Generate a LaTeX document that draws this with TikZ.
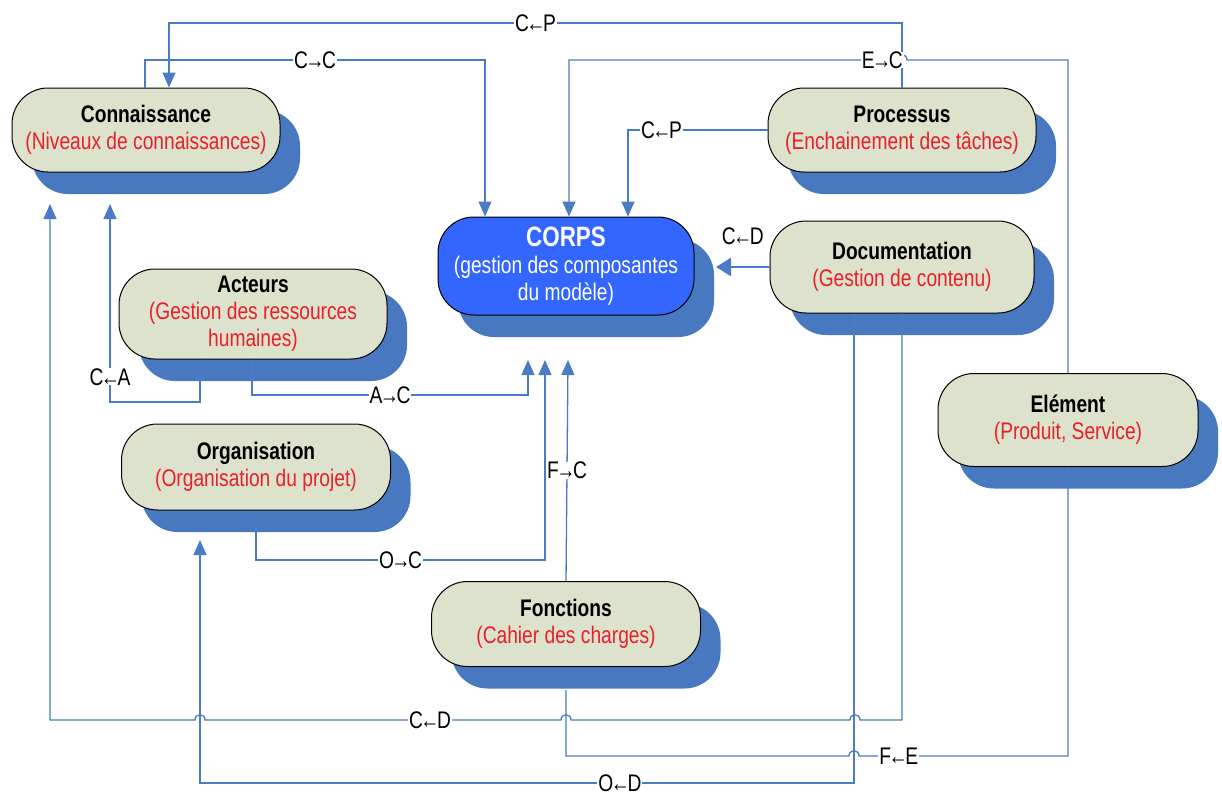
\documentclass[tikz,border=0pt]{standalone}
\usepackage{fontspec}
\setmainfont{Liberation Sans}[FakeStretch=0.8]
\usetikzlibrary{arrows.meta,shadows}
\definecolor{lineblue}{RGB}{74,123,196}
\definecolor{shadowblue}{RGB}{72,120,192}
\definecolor{boxfill}{RGB}{221,226,204}
\definecolor{corpsblue}{RGB}{51,102,255}
\definecolor{redtxt}{RGB}{232,32,42}
\newcommand{\subtxt}[1]{\textcolor{redtxt}{#1}}
\newcommand{\la}{\kern-2.5pt←\kern-2.5pt}
\newcommand{\ra}{\kern-2.5pt→\kern-2.5pt}
\tikzset{
 box/.style={draw=black, line width=1pt, fill=boxfill, rounded corners=36pt, align=center, inner sep=0pt,
   font=\fontsize{24}{27}\selectfont,
   general shadow={fill=shadowblue, shadow xshift=20pt, shadow yshift=-22pt}},
 cl/.style={draw=lineblue, line width=1.3pt},
 arr/.style={cl, -{Triangle[length=15pt,width=13pt]}},
 lbl/.style={fill=white, inner xsep=1pt, inner ysep=0pt, font=\fontsize{24}{27}\selectfont, text=black},
}
\begin{document}
\begin{tikzpicture}[x=1pt,y=-1pt]
\useasboundingbox (0,0) rectangle (1222,795);
% nodes
\node[box, minimum width=268pt, minimum height=84pt] (conn) at (146,130)
  {\textbf{Connaissance}\\\subtxt{(Niveaux de connaissances)}};
\node[box, minimum width=268pt, minimum height=84pt] (proc) at (902,130)
  {\textbf{Processus}\\\subtxt{(Enchainement des tâches)}};
\node[box, fill=corpsblue, text=white, minimum width=256pt, minimum height=98pt] (corps) at (566,266)
  {{\fontsize{28}{29}\selectfont\bfseries CORPS}\\(gestion des composantes\\du modèle)};
\node[box, minimum width=264pt, minimum height=92pt] (doc) at (902,267)
  {\textbf{Documentation}\\\subtxt{(Gestion de contenu)}};
\node[box, minimum width=268pt, minimum height=90pt] (act) at (253,314)
  {\textbf{Acteurs}\\\subtxt{(Gestion des ressources}\\\subtxt{humaines)}};
\node[box, minimum width=260pt, minimum height=93pt] (elem) at (1068,420)
  {\textbf{Elément}\\\subtxt{(Produit, Service)}};
\node[box, minimum width=269pt, minimum height=86pt] (org) at (256,467)
  {\textbf{Organisation}\\\subtxt{(Organisation du projet)}};
\node[box, minimum width=269pt, minimum height=85pt] (fonc) at (566,624)
  {\textbf{Fonctions}\\\subtxt{(Cahier des charges)}};
% connectors
\draw[arr] (proc.north) -- (902,23) -- node[lbl]{C\la P} (169,23) -- (169,0 |- conn.north);
\draw[arr] (145,0 |- conn.north) -- (145,60) -- node[lbl]{C\ra C} (485,60) -- (485,0 |- corps.north);
\draw[arr] (elem.north) -- (1068,60) -- (907,60) .. controls (907,53) and (897,53) .. (897,60)
  -- node[lbl,pos=0.045]{E\ra C} (569,60) -- (569,0 |- corps.north);
\draw[arr] (proc.west) -- node[lbl,pos=0.76]{C\la P} (628,130) -- (628,0 |- corps.north);
\draw[cl, line width=2.6pt, -{Triangle[length=15pt,width=18pt]}] (doc.west) --
  node[pos=0.5, yshift=31pt, font=\fontsize{24}{27}\selectfont]{C\la D} (716,0 |- doc.west);
\draw[arr] (200,0 |- act.south) -- (200,402) -- (110,402) -- node[lbl,pos=0.127]{C\la A} (110,204);
\draw[arr] (252,0 |- act.south) -- (252,395) -- node[lbl]{A\ra C} (528,395) -- (528,360);
\draw[arr] (org.south) -- (256,560) -- node[lbl]{O\ra C} (545,560) -- (545,360);
\draw[arr] (fonc.north) -- node[lbl]{F\ra C} (568,360);
\draw[arr] (doc.south) -- (902,720) -- (860,720) .. controls (860,713) and (850,713) .. (850,720)
  -- (571,720) .. controls (571,713) and (561,713) .. (561,720)
  -- node[lbl,pos=0.368]{C\la D} (205,720) .. controls (205,713) and (195,713) .. (195,720) -- (50,720) -- (50,204);
\draw[cl] (elem.south) -- (1068,756) -- node[lbl,pos=0.81]{F\la E} (859,756)
  .. controls (859,749) and (849,749) .. (849,756) -- (566,756) -- (566,690);
\draw[arr] (854,0 |- doc.south) -- (854,783) -- node[lbl,pos=0.358]{O\la D} (200,783) -- (200,540);
\end{tikzpicture}
\end{document}
